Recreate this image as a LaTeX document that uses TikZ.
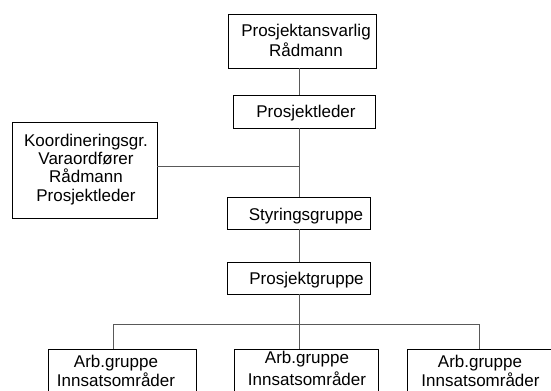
\documentclass[tikz,border=0pt]{standalone}
\usepackage{fontspec}
\setmainfont{Liberation Sans}
\begin{document}
\begin{tikzpicture}[x=1bp,y=-1bp,
  box/.style={draw=black, line width=0.8bp, inner sep=0pt, fill=white},
  txt/.style={inner sep=0pt, anchor=base, font=\fontsize{17bp}{20bp}\selectfont},
  conn/.style={draw=black!65, line width=0.9bp}]
\clip (0,0) rectangle (551,390);
\fill[white] (0,0) rectangle (551,390);
% spine coordinates
\coordinate (sp) at (299.5,0);
\coordinate (j) at (299.5,166);
\coordinate (br) at (299.5,324);
\coordinate (l) at (113,324);
\coordinate (r) at (479,324);
% boxes
\node[box, minimum width=148bp, minimum height=54bp] (top) at (302,41) {};
\node[box, minimum width=142bp, minimum height=33bp] (pl) at (304,111.5) {};
\node[box, minimum width=145bp, minimum height=96bp] (ko) at (84.5,170) {};
\node[box, minimum width=143bp, minimum height=32bp] (sty) at (298.5,213) {};
\node[box, minimum width=143bp, minimum height=32bp] (pg) at (298.5,278) {};
\node[box, minimum width=148bp, minimum height=60bp] (b1) at (122,379) {};
\node[box, minimum width=144bp, minimum height=60bp] (b2) at (306,379) {};
\node[box, minimum width=146bp, minimum height=60bp] (b3) at (480,379) {};
% connectors
\draw[conn] (top.south -| sp) -- (pl.north -| sp);
\draw[conn] (pl.south -| sp) -- (sty.north -| sp);
\draw[conn] (ko.east |- j) -- (j);
\draw[conn] (sty.south -| sp) -- (pg.north -| sp);
\draw[conn] (pg.south -| sp) -- (br);
\draw[conn] (l) -- (r);
\draw[conn] (l) -- (l |- b1.north);
\draw[conn] (br) -- (br |- b2.north);
\draw[conn] (r) -- (r |- b3.north);
% texts
\node[txt] (t1) at (306,36) {Prosjektansvarlig};
\node[txt] (t2) at (306,56) {Rådmann};
\node[txt] (t3) at (306,117.5) {Prosjektleder};
\node[txt] (k1) at (86,146.5) {Koordineringsgr.};
\node[txt] (k2) at (86,164.7) {Varaordfører};
\node[txt] (k3) at (86,182.9) {Rådmann};
\node[txt] (k4) at (86,201.1) {Prosjektleder};
\node[txt] (s1) at (306,220) {Styringsgruppe};
\node[txt] (p1) at (306.5,284) {Prosjektgruppe};
\node[txt] (a1) at (116,367) {Arb.gruppe};
\node[txt] (i1) at (116,386) {Innsatsområder};
\node[txt] (a2) at (307,363.3) {Arb.gruppe};
\node[txt] (i2) at (307,385) {Innsatsområder};
\node[txt] (a3) at (480,367) {Arb.gruppe};
\node[txt] (i3) at (480.5,386) {Innsatsområder};
\end{tikzpicture}
\end{document}
